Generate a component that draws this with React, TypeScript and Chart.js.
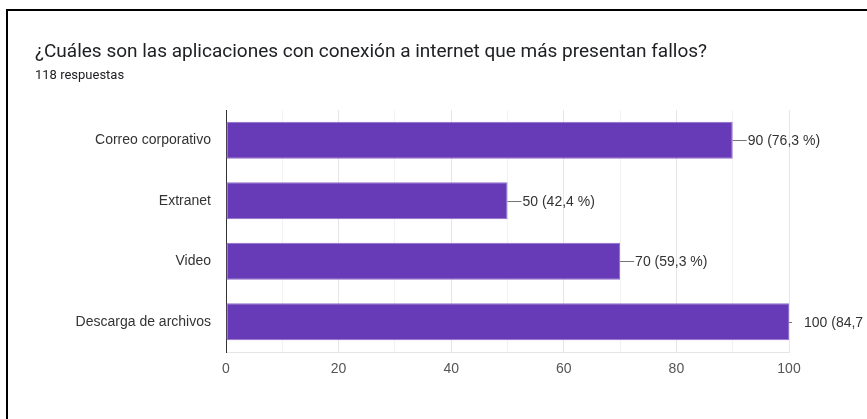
import React, { useEffect, useRef } from "react";
import { Chart, registerables } from "chart.js";

Chart.register(...registerables);

const TITLE = "¿Cuáles son las aplicaciones con conexión a internet que más presentan fallos?";
const TOTAL_RESPONSES = 118;
const SUBTITLE = `${TOTAL_RESPONSES} respuestas`;

const categories = ["Correo corporativo", "Extranet", "Video", "Descarga de archivos"];
const counts = [90, 50, 70, 100];
const xTicks = [0, 20, 40, 60, 80, 100];

const BAR_COLOR = "#673ab7";
const FONT = "Arial, 'Liberation Sans', sans-serif";

const formatPercent = (v: number) =>
  ((v / TOTAL_RESPONSES) * 100).toFixed(1).replace(".", ",");

// Draws "—90 (76,3 %)" style annotations to the right of each bar.
const valueLabels = {
  id: "valueLabels",
  afterDatasetsDraw(chart: any) {
    const { ctx, chartArea } = chart;
    const meta = chart.getDatasetMeta(0);
    ctx.save();
    meta.data.forEach((bar: any, i: number) => {
      const v = counts[i];
      const x = bar.x;
      const y = Math.round(bar.y) + 0.5;
      const lineEnd = Math.min(x + 14, chartArea.right + 3);
      ctx.strokeStyle = "#757575";
      ctx.lineWidth = 1;
      ctx.beginPath();
      ctx.moveTo(x, y);
      ctx.lineTo(lineEnd, y);
      ctx.stroke();
      ctx.fillStyle = "#333333";
      ctx.font = `14px ${FONT}`;
      ctx.textAlign = "left";
      ctx.textBaseline = "middle";
      ctx.fillText(`${v} (${formatPercent(v)} %)`, x + 15, bar.y + 1);
    });
    ctx.restore();
  },
};

export default function App() {
  const canvasRef = useRef<HTMLCanvasElement | null>(null);

  useEffect(() => {
    if (!canvasRef.current) return;
    const chart = new Chart(canvasRef.current, {
      type: "bar",
      data: {
        labels: categories,
        datasets: [
          {
            data: counts,
            backgroundColor: BAR_COLOR,
            borderColor: "#8f6dcb",
            borderWidth: 1,
            borderSkipped: false,
            categoryPercentage: 1,
            barPercentage: 0.615,
          },
        ],
      },
      options: {
        indexAxis: "y",
        animation: false,
        responsive: false,
        maintainAspectRatio: false,
        layout: { padding: { left: 0, right: 78, top: 110, bottom: 27 } },
        plugins: {
          legend: { display: false },
          tooltip: { enabled: false },
          title: { display: false },
        },
        scales: {
          x: {
            min: 0,
            max: 100,
            afterFit: (scale: any) => {
              scale.height = 40;
            },
            afterBuildTicks: (scale: any) => {
              const t: any[] = [];
              for (let v = 0; v <= 100; v += 10) t.push({ value: v });
              scale.ticks = t;
            },
            grid: {
              drawTicks: false,
              color: (c: any) =>
                c.tick && c.tick.value % 20 === 0 ? "#e6e6e6" : "#f2f2f2",
            },
            border: { display: true, color: "#e6e6e6" },
            ticks: {
              padding: 9,
              autoSkip: false,
              maxRotation: 0,
              color: "#555555",
              font: { family: FONT, size: 14 },
              callback: (value: any) =>
                xTicks.includes(Number(value)) ? String(value) : "",
            },
          },
          y: {
            afterFit: (scale: any) => {
              scale.width = 226;
            },
            grid: { display: false, drawTicks: false },
            border: { display: true, color: "#333333", width: 1 },
            ticks: {
              padding: 15,
              color: "#333333",
              font: { family: FONT, size: 14 },
            },
          },
        },
      },
      plugins: [valueLabels],
    });
    return () => chart.destroy();
  }, []);

  return (
    <div
      style={{
        position: "fixed",
        left: 0,
        top: 0,
        width: 867,
        height: 419,
        overflow: "hidden",
        background: "#ffffff",
      }}
    >
      <canvas
        ref={canvasRef}
        width={867}
        height={419}
        style={{ position: "absolute", left: 0, top: 0, width: 867, height: 419 }}
      />
      <div
        style={{
          position: "absolute",
          left: 6,
          top: 9,
          right: 0,
          bottom: 0,
          borderLeft: "2px solid #000",
          borderTop: "2px solid #000",
          pointerEvents: "none",
        }}
      />
      <div
        style={{
          position: "absolute",
          left: 35,
          top: 40,
          fontFamily: "Roboto, sans-serif",
          fontSize: 19,
          lineHeight: "22px",
          color: "#202124",
          whiteSpace: "nowrap",
        }}
      >
        {TITLE}
      </div>
      <div
        style={{
          position: "absolute",
          left: 35,
          top: 67,
          fontFamily: "Roboto, sans-serif",
          fontSize: 13,
          lineHeight: "16px",
          color: "#202124",
          whiteSpace: "nowrap",
        }}
      >
        {SUBTITLE}
      </div>
    </div>
  );
}
